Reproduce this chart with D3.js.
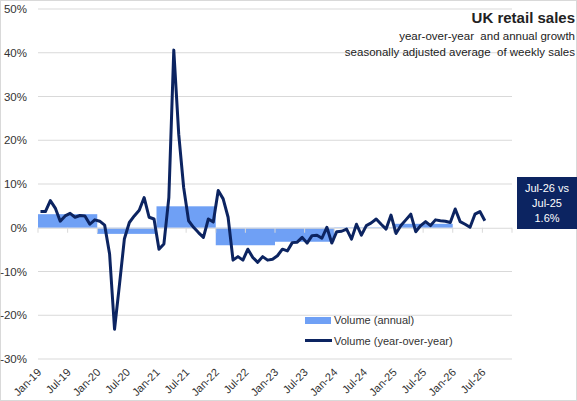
<!DOCTYPE html>
<html>
<head>
<meta charset="utf-8">
<script src="https://cdn.jsdelivr.net/npm/d3@7"></script>
<style>
  body { margin: 0; background: #fff; }
  svg { display: block; font-family: "Liberation Sans", Arial, sans-serif; }
  svg text { white-space: pre; }
</style>
</head>
<body>
<svg class="vis" width="577" height="401"></svg>
<script>
// year-over-year volume growth, monthly Jan-19 .. Jul-26 (%)
const yoy = [
  3.7, 3.7, 6.2, 4.5, 1.5, 2.7, 3.3, 2.4, 2.8, 2.7, 0.8, 1.8,
  1.5, 0.6, -6.0, -23.2, -13.0, -2.5, 1.2, 2.7, 4.0, 6.9, 2.4, 2.0,
  -4.9, -3.7, 6.9, 40.6, 21.4, 9.2, 1.6, 0.1, -1.1, -2.2, 2.0, 1.3,
  8.5, 6.6, 2.4, -7.4, -6.6, -7.4, -4.9, -6.8, -7.9, -6.6, -7.4, -7.2,
  -6.4, -4.9, -5.3, -3.4, -3.3, -2.2, -3.5, -1.8, -1.7, -2.4, 0.1, -3.5,
  -0.9, -0.8, -0.3, -2.6, 0.8, -1.7, 0.5, 1.1, 2.0, 0.8, -0.3, 2.9,
  -1.3, 0.5, 1.8, 3.1, -0.9, 0.5, 1.4, 0.5, 1.8, 1.6, 1.5, 1.2,
  4.3, 1.4, 0.8, 0.1, 3.1, 3.7, 1.6
];

// annual growth (%)
const years = [2019, 2020, 2021, 2022, 2023, 2024, 2025];
const annual = [3.1, -1.4, 4.9, -4.0, -3.2, 0.1, 0.9];

const tickLabels = ["Jan-19", "Jul-19", "Jan-20", "Jul-20", "Jan-21", "Jul-21", "Jan-22", "Jul-22",
  "Jan-23", "Jul-23", "Jan-24", "Jul-24", "Jan-25", "Jul-25", "Jan-26", "Jul-26"];
const yTicks = [-30, -20, -10, 0, 10, 20, 30, 40, 50];

const navy = "#0c2461";
const barBlue = "#6fa0f5";
const grid = "#d9d9d9";

const svg = d3.select("svg.vis");

// chart border
svg.append("rect")
  .attr("x", 0.5).attr("y", 0.5)
  .attr("width", 576).attr("height", 400)
  .attr("fill", "#fff").attr("stroke", grid);

const x = d3.scaleLinear().domain([0, 96]).range([38, 512]);
const y = d3.scaleLinear().domain([-30, 50]).range([359, 9]);

// gridlines
svg.append("g")
  .selectAll("line")
  .data(yTicks.filter(d => d !== 0))
  .join("line")
  .attr("x1", x(0)).attr("x2", x(96))
  .attr("y1", d => y(d)).attr("y2", d => y(d))
  .attr("stroke", grid).attr("stroke-width", 1);

// y labels
svg.append("g")
  .selectAll("text")
  .data(yTicks)
  .join("text")
  .attr("x", 27).attr("y", d => y(d) + 4)
  .attr("text-anchor", "end")
  .attr("font-size", 11.5)
  .attr("fill", "#333")
  .text(d => d + "%");

// annual bars
svg.append("g")
  .selectAll("rect")
  .data(annual)
  .join("rect")
  .attr("x", (d, i) => x(i * 12))
  .attr("width", x(12) - x(0))
  .attr("y", d => y(Math.max(0, d)))
  .attr("height", d => Math.abs(y(d) - y(0)))
  .attr("fill", barBlue);

// zero axis with ticks
svg.append("line")
  .attr("x1", x(0)).attr("x2", x(96))
  .attr("y1", y(0) + 0.5).attr("y2", y(0) + 0.5)
  .attr("stroke", grid);

svg.append("g")
  .selectAll("line")
  .data(d3.range(0, 97, 6))
  .join("line")
  .attr("x1", d => x(d)).attr("x2", d => x(d))
  .attr("y1", y(0)).attr("y2", y(0) + 5)
  .attr("stroke", grid);

// x labels, rotated
svg.append("g")
  .selectAll("text")
  .data(tickLabels)
  .join("text")
  .attr("transform", (d, i) => `translate(${x(i * 6) + 4},${373}) rotate(-45)`)
  .attr("text-anchor", "end")
  .attr("font-size", 11)
  .attr("fill", "#333")
  .text(d => d);

// yoy line
const line = d3.line()
  .x((d, i) => x(i + 0.5))
  .y(d => y(d));

svg.append("path")
  .datum(yoy)
  .attr("d", line)
  .attr("fill", "none")
  .attr("stroke", navy)
  .attr("stroke-width", 3)
  .attr("stroke-linejoin", "round");

// legend
const lg = svg.append("g").attr("font-size", 11).attr("fill", "#333");
lg.append("rect").attr("x", 305).attr("y", 317).attr("width", 26).attr("height", 7).attr("fill", barBlue);
lg.append("text").attr("x", 334).attr("y", 324).text("Volume (annual)");
lg.append("line").attr("x1", 305).attr("x2", 332).attr("y1", 340.5).attr("y2", 340.5)
  .attr("stroke", navy).attr("stroke-width", 3);
lg.append("text").attr("x", 334).attr("y", 344.5).text("Volume (year-over-year)");

// titles
const tt = svg.append("g").attr("text-anchor", "end").attr("fill", "#222");
tt.append("text").attr("x", 575).attr("y", 23).attr("font-size", 15).attr("font-weight", "bold").text("UK retail sales");
tt.append("text").attr("x", 575).attr("y", 40).attr("font-size", 11.5).text("year-over-year  and annual growth");
tt.append("text").attr("x", 575).attr("y", 56).attr("font-size", 11.5).text("seasonally adjusted average  of weekly sales");

// callout box
const last = yoy[yoy.length - 1];
svg.append("rect").attr("x", 517).attr("y", 177).attr("width", 60).attr("height", 52).attr("fill", navy);
const cb = svg.append("g").attr("text-anchor", "middle").attr("fill", "#fff").attr("font-size", 11);
cb.append("text").attr("x", 547).attr("y", 192).text("Jul-26 vs");
cb.append("text").attr("x", 547).attr("y", 207).text("Jul-25");
cb.append("text").attr("x", 547).attr("y", 222).text(last.toFixed(1) + "%");
</script>
</body>
</html>
